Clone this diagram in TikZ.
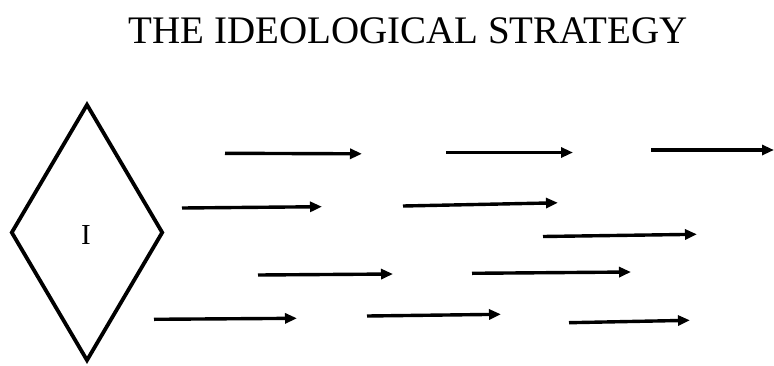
\documentclass[tikz,border=0pt]{standalone}
\usepackage{fontspec}
\setmainfont{Liberation Serif}
\usetikzlibrary{shapes.geometric,arrows.meta}
\begin{document}
\begin{tikzpicture}[x=1pt,y=-1pt,
  flowarrow/.style={line width=3.4pt,-{Triangle[length=12pt,width=10pt]}},
  rhombus/.style={draw,line width=3.8pt,shape=diamond,inner sep=0pt,
    minimum width=152pt,minimum height=257pt},
  titletext/.style={font=\fontsize{39}{44}\selectfont,anchor=base},
  labeltext/.style={font=\fontsize{29}{34}\selectfont}]
\useasboundingbox (0,0) rectangle (774,365);
\node[titletext] (title) at (408,43.5) {THE IDEOLOGICAL STRATEGY};
\node[rhombus] (dia) at (87,232.5) {};
\node[labeltext] (lbl) at (86,235) {I};
% arrow end points
\coordinate (a1s) at (225,153.3); \coordinate (a1e) at (362,153.8);
\coordinate (a2s) at (446,152.5); \coordinate (a2e) at (573,152.5);
\coordinate (a3s) at (651,150);   \coordinate (a3e) at (774,150);
\coordinate (a4s) at (182,208);   \coordinate (a4e) at (322,206.7);
\coordinate (a5s) at (403,206);   \coordinate (a5e) at (558,202.8);
\coordinate (a6s) at (543,236.5); \coordinate (a6e) at (697,234.3);
\coordinate (a7s) at (258,275);   \coordinate (a7e) at (393,274);
\coordinate (a8s) at (472,273.3); \coordinate (a8e) at (631,272);
\coordinate (a9s) at (154,319.3); \coordinate (a9e) at (297,318.3);
\coordinate (a10s) at (367,316);  \coordinate (a10e) at (501,314.3);
\coordinate (a11s) at (569,322.7);\coordinate (a11e) at (690,320.3);
\foreach \i in {1,...,11}{\draw[flowarrow] (a\i s) -- (a\i e);}
\end{tikzpicture}
\end{document}
